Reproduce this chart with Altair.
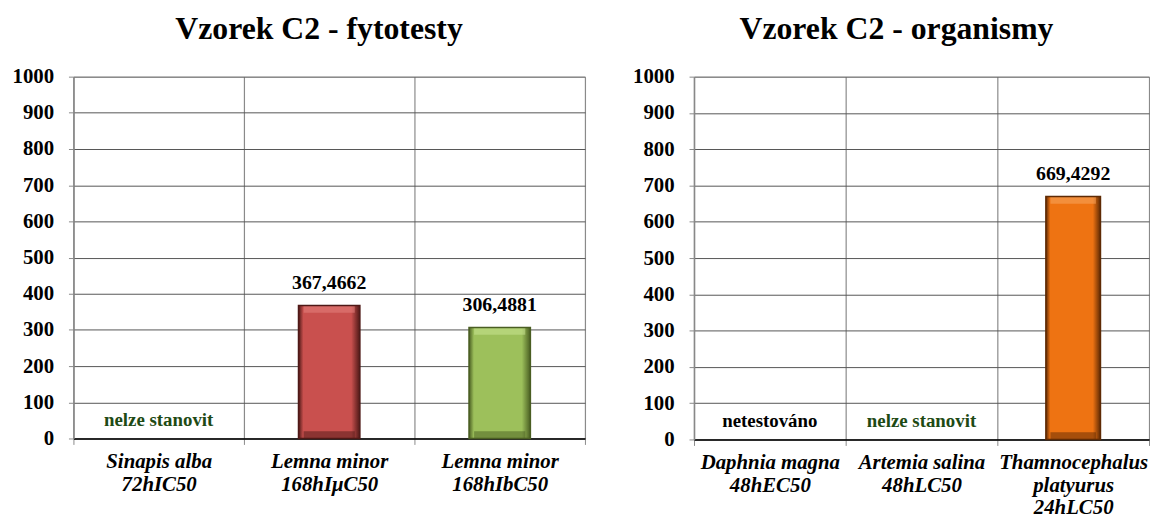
import altair as alt
import pandas as pd

FONT = "Liberation Serif, Times New Roman, serif"

# ---- data ----
left_title = "Vzorek C2 - fytotesty"
left_cats = ["Sinapis alba|72hIC50", "Lemna minor|168hIμC50", "Lemna minor|168hIbC50"]
left_vals = [None, 367.4662, 306.4881]
left_labels = ["", "367,4662", "306,4881"]
left_notes = ["nelze stanovit", "", ""]
left_note_colors = ["#1E4A14", "#000000", "#000000"]
left_faces = [None, "#C9504E", "#9DC05B"]
left_darks = [None, "#4E1816", "#4A5E22"]
left_lights = [None, "#E4817E", "#C8E391"]

right_title = "Vzorek C2 - organismy"
right_cats = ["Daphnia magna|48hEC50", "Artemia salina|48hLC50", "Thamnocephalus|platyurus|24hLC50"]
right_vals = [None, None, 669.4292]
right_labels = ["", "", "669,4292"]
right_notes = ["netestováno", "nelze stanovit", ""]
right_note_colors = ["#000000", "#1E4A14", "#000000"]
right_faces = [None, None, "#EE7312"]
right_darks = [None, None, "#5E2A04"]
right_lights = [None, None, "#F8A55E"]

y_ticks = list(range(0, 1001, 100))
NOTE_LEVEL = 52
STRIP = 20


def panel(title, cats, vals, labels, notes, note_colors, faces, darks, lights,
          width, height, title_offset, title_dx):
    df = pd.DataFrame({"cat": cats, "val": vals, "lab": labels,
                       "note": notes, "nc": note_colors})
    xscale = alt.Scale(paddingInner=0, paddingOuter=0)
    yscale = alt.Scale(domain=[0, 1000], nice=False)
    xaxis = alt.Axis(labelAngle=0, labelExpr="split(datum.label, '|')",
                     labelFont=FONT, labelFontSize=21, labelFontWeight="bold",
                     labelFontStyle="italic", labelColor="#000",
                     labelLineHeight=23, labelPadding=6,
                     tickBand="extent", grid=True, gridColor="#8a8a8a",
                     gridWidth=1.2, tickColor="#8a8a8a", tickSize=6,
                     domainColor="#000", domainWidth=1.5)
    yaxis = alt.Axis(values=y_ticks, format="d", labelOverlap=False,
                     labelFont=FONT, labelFontSize=21,
                     labelFontWeight="bold", labelColor="#000",
                     labelPadding=15, tickSize=5, tickColor="#888",
                     domainColor="#888", domainWidth=1.5,
                     gridColor="#555", gridWidth=1, minExtent=65)
    X = lambda: alt.X("cat:N", sort=cats, scale=xscale, axis=xaxis, title=None)
    Y = lambda f: alt.Y(f, scale=yscale, axis=yaxis, title=None)
    base = alt.Chart(df)
    grid = base.mark_bar(opacity=0).encode(x=X(), y=Y("val:Q"))
    layers = [grid]
    for i, c in enumerate(cats):
        if vals[i] is None:
            continue
        f = alt.datum.cat == c
        grad = alt.Gradient(gradient="linear", x1=0, x2=1, y1=0, y2=0,
                            stops=[alt.GradientStop(offset=0, color=darks[i]),
                                   alt.GradientStop(offset=0.08, color=faces[i]),
                                   alt.GradientStop(offset=0.86, color=faces[i]),
                                   alt.GradientStop(offset=1, color=darks[i])])
        b = base.transform_filter(f)
        layers.append(b.mark_bar(color=grad, width=alt.RelativeBandSize(0.36)).encode(
            x=X(), y=Y("val:Q")))
        layers.append(b.transform_calculate(lo=f"datum.val - {STRIP}").mark_bar(
            color=lights[i], opacity=0.55, width=alt.RelativeBandSize(0.30)).encode(
            x=X(), y=Y("lo:Q"), y2="val:Q"))
        layers.append(b.transform_calculate(lo="0", hi=f"{STRIP}").mark_bar(
            color=darks[i], opacity=0.5, width=alt.RelativeBandSize(0.30)).encode(
            x=X(), y=Y("lo:Q"), y2="hi:Q"))
        layers.append(b.mark_bar(fillOpacity=0, stroke=darks[i], strokeWidth=1.5,
                                 width=alt.RelativeBandSize(0.36)).encode(
            x=X(), y=Y("val:Q")))
    layers.append(base.mark_text(font=FONT, fontSize=20, fontWeight="bold",
                                 baseline="alphabetic", dy=-17, color="#000").encode(
        x=X(), y=Y("val:Q"), text="lab:N"))
    layers.append(base.mark_text(font=FONT, fontSize=19, fontWeight="bold",
                                 baseline="middle").encode(
        x=X(), y=alt.YDatum(NOTE_LEVEL, scale=yscale, axis=yaxis, title=None),
        text="note:N", color=alt.Color("nc:N", scale=None)))
    return alt.layer(*layers).properties(
        width=width, height=height,
        title=alt.TitleParams(title, font=FONT, fontSize=32, fontWeight="bold",
                              color="#000", anchor="middle", frame="bounds",
                              offset=title_offset, dx=title_dx))


left = panel(left_title, left_cats, left_vals, left_labels, left_notes,
             left_note_colors, left_faces, left_darks, left_lights, 516, 365, 20, 22)
right = panel(right_title, right_cats, right_vals, right_labels, right_notes,
              right_note_colors, right_faces, right_darks, right_lights, 459, 366, 20, 7)

chart = alt.hconcat(left, right, spacing=43).properties(
    padding={"left": 0, "top": 2, "right": 0, "bottom": 0}
).configure_view(stroke="#888", strokeWidth=1.2).configure(background="white")

chart.save("out.html", embed_options={"renderer": "svg", "actions": False})
